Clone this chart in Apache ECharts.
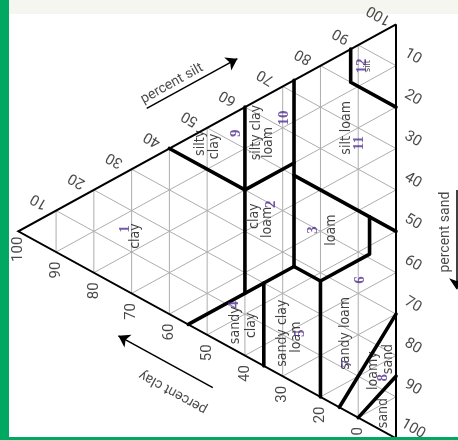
<!DOCTYPE html>
<html>
<head>
<meta charset="utf-8">
<script src="https://cdn.jsdelivr.net/npm/echarts@6/dist/echarts.min.js"></script>
<style>
  html, body { margin: 0; padding: 0; background: #fff; }
  #wrap { position: relative; width: 458px; height: 440px; overflow: hidden; background: #fff; }
  #band { position: absolute; left: 0; top: 0; width: 458px; height: 14px; background: #f6f6f1; }
  #chart { position: absolute; left: 0; top: 0; width: 458px; height: 440px; }
  #edgeL { position: absolute; left: 0; top: 0; width: 9px; height: 440px; background: #00a862; }
  #edgeB { position: absolute; left: 0; bottom: 0; width: 458px; height: 3px; background: #00a862; }
</style>
</head>
<body>
<div id="wrap">
  <div id="band"></div>
  <div id="chart"></div>
  <div id="edgeL"></div>
  <div id="edgeB"></div>
</div>
<script>
// Soil texture triangle (USDA classes). Every point is given as [clay %, sand %];
// silt is the remainder. The chart lays clay along x and (sand + clay/2) along y.

const tickValues = [10, 20, 30, 40, 50, 60, 70, 80, 90, 100];
const gridSteps = [10, 20, 30, 40, 50, 60, 70, 80, 90];

// triangle outline: silt corner, clay corner, sand corner
const outline = [[0, 0], [100, 0], [0, 100], [0, 0]];

// texture class boundaries
const boundaries = [
  [[60, 0], [40, 20]],               // silt 40: silty clay / clay
  [[40, 0], [40, 45]],               // clay 40
  [[27, 0], [27, 45]],               // clay 27
  [[40, 20], [27, 20]],              // sand 20
  [[55, 45], [27, 45]],              // sand 45
  [[35, 45], [35, 65]],              // clay 35
  [[27, 23], [0, 50]],               // silt 50
  [[27, 45], [20, 52], [7, 52], [7, 43]], // loam lower edge
  [[20, 52], [20, 80]],              // clay 20
  [[0, 70], [15, 85]],               // sandy loam / loamy sand
  [[0, 85], [10, 90]],               // loamy sand / sand
  [[0, 20], [12, 8], [12, 0]]        // silt box
];

// class names, one text line per entry: [text, clay, sand]
const classLines = [
  ['clay', 69.1, 16.6],
  ['clay', 37.5, 27.6], ['loam', 34.1, 30.8],
  ['loam', 17.2, 41.1],
  ['sandy', 42.4, 51.5], ['clay', 38.4, 53.5],
  ['sandy clay', 30.2, 59.5], ['loam', 26.5, 62.3],
  ['sandy loam', 13.5, 67.9],
  ['loamy', 6.1, 80.6], ['sand', 2.1, 79.8],
  ['sand', 3.4, 92.2],
  ['silty', 51.9, 2.7], ['clay', 48.0, 5.5],
  ['silty clay', 37.1, 7.6], ['loam', 33.9, 11.6],
  ['silt loam', 13.2, 18.4],
  ['silt', 7.4, 6.4]
];

// class numbers: [text, clay, sand]
const classNumbers = [
  ['1', 71.7, 13.6],
  ['2', 33.1, 26.9],
  ['3', 22.0, 38.7],
  ['4', 42.9, 46.3],
  ['5', 25.4, 61.9],
  ['6', 9.5, 57.0],
  ['7', 13.0, 75.5],
  ['8', 3.4, 83.7],
  ['9', 42.4, 5.1],
  ['10', 29.7, 7.8],
  ['11', 9.8, 23.8],
  ['12', 9.0, 5.6]
];

const axisTitles = [
  ['percent silt', 59.3, -15.3, 29],
  ['percent clay', 59.0, 59.3, 151],
  ['percent sand', -13.0, 56.7, 90]
];

const arrows = [
  [[66, -12.7], [42, -12.7]],
  [[48.5, 63.5], [73.5, 38.5]],
  [[-16, 48], [-16, 72]]
];

const toXY = ([clay, sand]) => [clay, sand + clay / 2];

// thin 10 % grid lines for the three components
const gridSegs = [];
gridSteps.forEach(v => {
  gridSegs.push([[v, 0], [v, 100 - v]]);        // constant clay
  gridSegs.push([[0, v], [100 - v, v]]);        // constant sand
  gridSegs.push([[0, 100 - v], [100 - v, 0]]);  // constant silt
});

const tickFont = { fontFamily: 'Roboto, "Noto Sans", sans-serif', fontSize: 15, color: '#1a1a1a' };
const tickData = [];
tickValues.forEach(t => {
  tickData.push({ value: toXY([-4.5, t]), name: String(t), label: { rotate: -30 } });          // sand
  tickData.push({ value: toXY([104.5 - t, -4.5]), name: String(t), label: { rotate: 150 } });  // silt
  tickData.push({ value: toXY([t, 104.35 - t]), name: String(t), label: { rotate: 90 } });     // clay
});

const labelSeries = (data, font) => ({
  type: 'scatter',
  clip: false,
  symbolSize: 1,
  itemStyle: { color: 'transparent' },
  silent: true,
  z: 10,
  data,
  label: Object.assign({
    show: true, position: 'inside', formatter: p => p.name
  }, font)
});

const chart = echarts.init(document.getElementById('chart'), null, { renderer: 'canvas' });
chart.setOption({
  animation: false,
  backgroundColor: 'transparent',
  grid: { left: 18.3, right: 62, top: 24.3, bottom: 1.7 },
  xAxis: { type: 'value', min: 0, max: 100, inverse: true, show: false },
  yAxis: { type: 'value', min: 0, max: 100, inverse: true, show: false },
  series: [
    {
      type: 'lines', coordinateSystem: 'cartesian2d', polyline: true, clip: false, silent: true,
      lineStyle: { color: '#adadad', width: 1, opacity: 1 },
      data: gridSegs.map(s => ({ coords: s.map(toXY) }))
    },
    {
      type: 'lines', coordinateSystem: 'cartesian2d', polyline: true, clip: false, silent: true,
      lineStyle: { color: '#000', width: 3.6, opacity: 1, cap: 'round', join: 'round' },
      data: boundaries.map(s => ({ coords: s.map(toXY) }))
    },
    {
      type: 'lines', coordinateSystem: 'cartesian2d', polyline: true, clip: false, silent: true,
      lineStyle: { color: '#000', width: 2, opacity: 1, join: 'miter' },
      data: [{ coords: outline.map(toXY) }]
    },
    {
      type: 'lines', coordinateSystem: 'cartesian2d', clip: false, silent: true,
      symbol: ['none', 'arrow'], symbolSize: 11,
      lineStyle: { color: '#000', width: 1.5, opacity: 1 },
      data: arrows.map(a => ({ coords: a.map(toXY) }))
    },
    labelSeries(tickData, tickFont),
    labelSeries(classLines.map(([t, c, s]) => ({ value: toXY([c, s]), name: t,
        label: t === 'silt' && c < 10 ? { fontSize: 9 } : {} })),
      { rotate: 90, fontFamily: '"Liberation Sans Narrow", "DejaVu Sans Condensed", sans-serif',
        fontSize: 14, color: '#111' }),
    labelSeries(classNumbers.map(([t, c, s]) => ({ value: toXY([c, s]), name: t })),
      { rotate: 90, fontFamily: '"Liberation Serif", "DejaVu Serif", serif',
        fontSize: 15, fontWeight: 'bold', color: '#52308f' }),
    labelSeries(axisTitles.map(([t, c, s, r]) => ({ value: toXY([c, s]), name: t, label: { rotate: r } })),
      { fontFamily: 'Roboto, "Noto Sans", sans-serif', fontSize: 14, color: '#1a1a1a' })
  ]
});
</script>
</body>
</html>
